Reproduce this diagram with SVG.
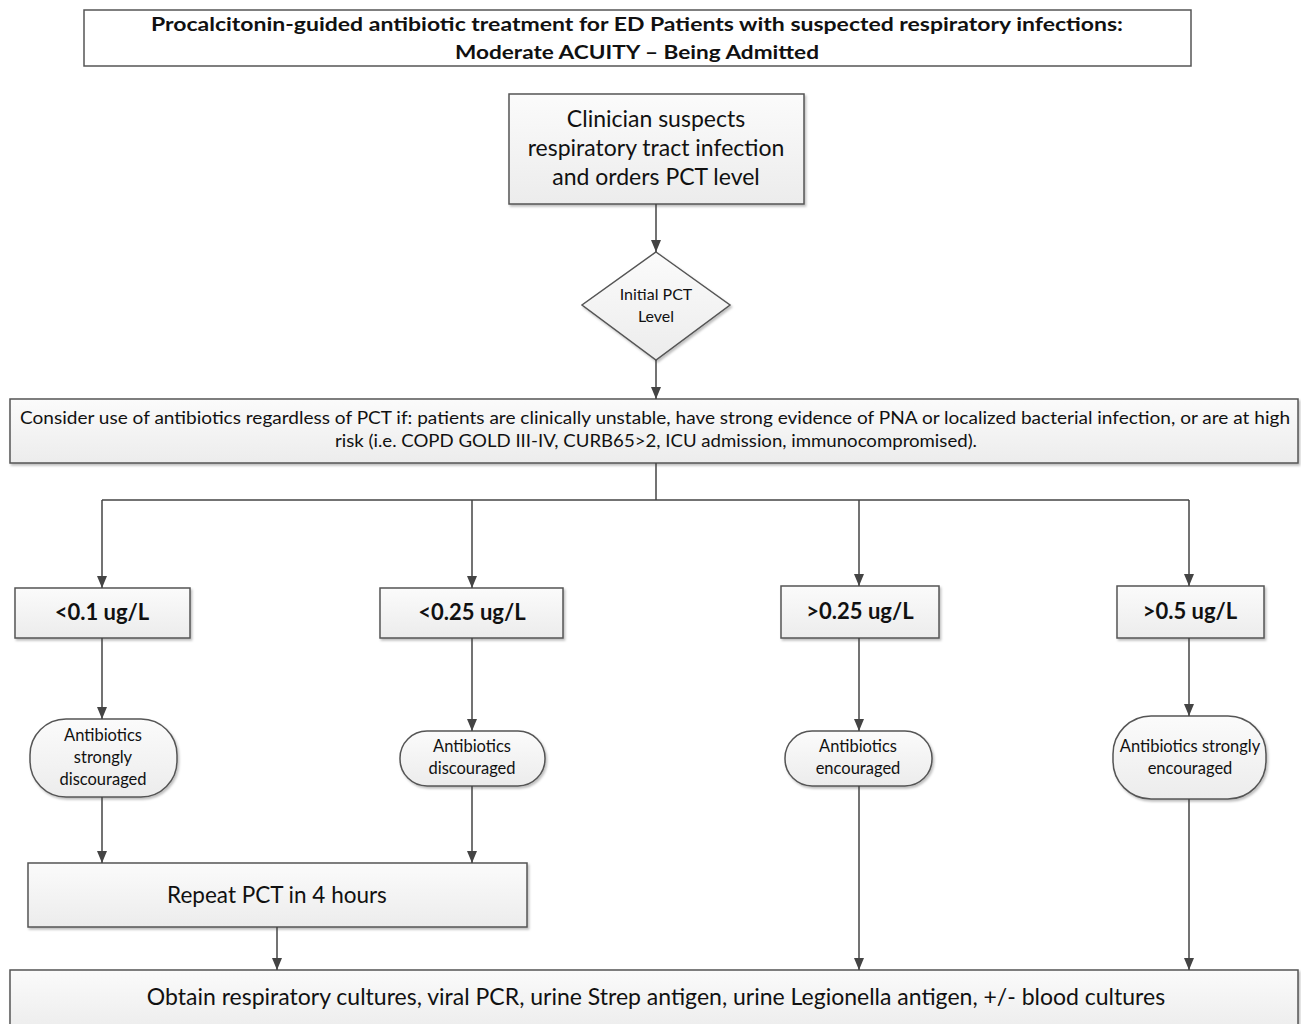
<svg xmlns="http://www.w3.org/2000/svg" width="1301" height="1024" viewBox="0 0 1301 1024">
<style>
text{font-family:Lato,"Open Sans","Liberation Sans",sans-serif;fill:#111;text-anchor:middle}
.b{font-weight:bold}
.box{fill:url(#g);stroke:#555;stroke-width:1.5}
.c{stroke:#444;stroke-width:1.5;fill:none;marker-end:url(#ah)}
.l{stroke:#444;stroke-width:1.5;fill:none}
.o{font-size:16.5px}
.lv{font-size:22px;font-weight:bold}
</style>
<defs>
<linearGradient id="g" x1="0" y1="0" x2="0" y2="1"><stop offset="0" stop-color="#fbfbfb"/><stop offset="1" stop-color="#ececec"/></linearGradient>
<marker id="ah" viewBox="0 0 12 10" refX="12" refY="5" markerWidth="12" markerHeight="10" markerUnits="userSpaceOnUse" orient="auto"><path d="M0,0 L12,5 L0,10 z" fill="#444"/></marker>
<filter id="sh" x="-5%" y="-5%" width="110%" height="120%"><feDropShadow dx="1.5" dy="2" stdDeviation="1.2" flood-color="#000" flood-opacity="0.25"/></filter>
</defs>
<rect width="1301" height="1024" fill="#fff"/>
<g id="title">
<rect x="84" y="10" width="1107" height="56" fill="#fff" stroke="#555" stroke-width="1.5"/>
<text class="b" x="637" y="31" font-size="19" textLength="972" lengthAdjust="spacingAndGlyphs">Procalcitonin-guided antibiotic treatment for ED Patients with suspected respiratory infections:</text>
<text class="b" x="637" y="59" font-size="19" textLength="364" lengthAdjust="spacingAndGlyphs">Moderate ACUITY – Being Admitted</text>
</g>
<g id="clinician">
<rect class="box" x="509" y="94" width="295" height="110" filter="url(#sh)"/>
<text x="656" y="127" font-size="23">Clinician suspects</text>
<text x="656" y="156" font-size="23">respiratory tract infection</text>
<text x="656" y="185" font-size="23">and orders PCT level</text>
</g>
<g id="initial">
<polygon class="box" points="656,252 730,305 656,360 582,305" filter="url(#sh)"/>
<text x="656" y="300" font-size="16">Initial PCT</text>
<text x="656" y="322" font-size="16">Level</text>
</g>
<g id="consider">
<rect class="box" x="10" y="399" width="1288" height="64" filter="url(#sh)"/>
<text x="655" y="424" font-size="17" textLength="1270" lengthAdjust="spacingAndGlyphs">Consider use of antibiotics regardless of PCT if: patients are clinically unstable, have strong evidence of PNA or localized bacterial infection, or are at high</text>
<text x="656" y="447" font-size="17" textLength="642" lengthAdjust="spacingAndGlyphs">risk (i.e. COPD GOLD III-IV, CURB65&gt;2, ICU admission, immunocompromised).</text>
</g>
<g id="lt01">
<rect class="box" x="15" y="588" width="175" height="50" filter="url(#sh)"/>
<text class="lv" x="102" y="620">&lt;0.1 ug/L</text>
</g>
<g id="lt025">
<rect class="box" x="380" y="588" width="183" height="50" filter="url(#sh)"/>
<text class="lv" x="472" y="620">&lt;0.25 ug/L</text>
</g>
<g id="gt025">
<rect class="box" x="781" y="586" width="158" height="52" filter="url(#sh)"/>
<text class="lv" x="860" y="619">&gt;0.25 ug/L</text>
</g>
<g id="gt05">
<rect class="box" x="1117" y="586" width="147" height="52" filter="url(#sh)"/>
<text class="lv" x="1190" y="619">&gt;0.5 ug/L</text>
</g>
<g id="abx1">
<rect class="box" x="30" y="719" width="147" height="78" rx="36" ry="36" filter="url(#sh)"/>
<text class="o" x="103" y="741">Antibiotics</text>
<text class="o" x="103" y="763">strongly</text>
<text class="o" x="103" y="785">discouraged</text>
</g>
<g id="abx2">
<rect class="box" x="400" y="731" width="145" height="55" rx="27" ry="27" filter="url(#sh)"/>
<text class="o" x="472" y="752">Antibiotics</text>
<text class="o" x="472" y="774">discouraged</text>
</g>
<g id="abx3">
<rect class="box" x="785" y="731" width="147" height="55" rx="27" ry="27" filter="url(#sh)"/>
<text class="o" x="858" y="752">Antibiotics</text>
<text class="o" x="858" y="774">encouraged</text>
</g>
<g id="abx4">
<rect class="box" x="1113" y="716" width="153" height="83" rx="38" ry="38" filter="url(#sh)"/>
<text class="o" x="1190" y="752">Antibiotics strongly</text>
<text class="o" x="1190" y="774">encouraged</text>
</g>
<g id="repeat">
<rect class="box" x="28" y="863" width="499" height="64" filter="url(#sh)"/>
<text x="277" y="903" font-size="22.5">Repeat PCT in 4 hours</text>
</g>
<g id="obtain">
<rect class="box" x="10" y="970" width="1288" height="62" filter="url(#sh)"/>
<text x="656" y="1005" font-size="23">Obtain respiratory cultures, viral PCR, urine Strep antigen, urine Legionella antigen, +/- blood cultures</text>
</g>
<g id="connectors">
<line class="c" x1="656" y1="204" x2="656" y2="252"/>
<line class="c" x1="656" y1="360" x2="656" y2="399"/>
<polyline class="l" points="656,463 656,500"/>
<polyline class="l" points="102,500 1189,500"/>
<line class="c" x1="102" y1="500" x2="102" y2="588"/>
<line class="c" x1="472" y1="500" x2="472" y2="588"/>
<line class="c" x1="859" y1="500" x2="859" y2="586"/>
<line class="c" x1="1189" y1="500" x2="1189" y2="586"/>
<line class="c" x1="102" y1="638" x2="102" y2="719"/>
<line class="c" x1="472" y1="638" x2="472" y2="731"/>
<line class="c" x1="859" y1="638" x2="859" y2="731"/>
<line class="c" x1="1189" y1="638" x2="1189" y2="716"/>
<line class="c" x1="102" y1="797" x2="102" y2="863"/>
<line class="c" x1="472" y1="786" x2="472" y2="863"/>
<line class="c" x1="277" y1="927" x2="277" y2="970"/>
<line class="c" x1="859" y1="786" x2="859" y2="970"/>
<line class="c" x1="1189" y1="799" x2="1189" y2="970"/>
</g>
</svg>
